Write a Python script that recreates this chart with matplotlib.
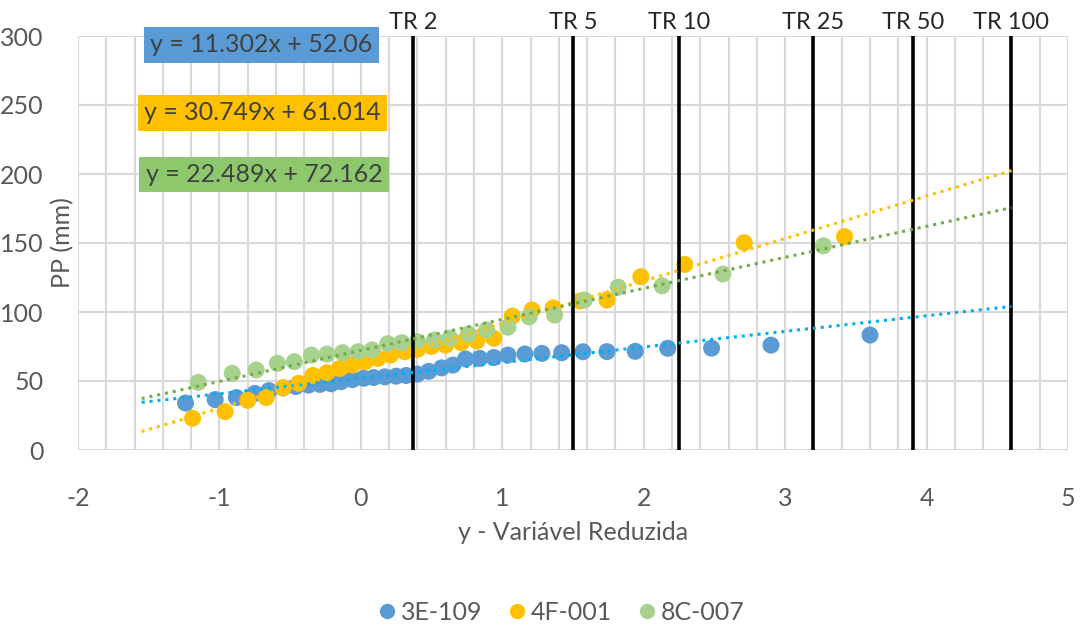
"""
Gumbel: precipitação máxima (PP) x variável reduzida, três postos.
"""

import matplotlib
matplotlib.use("Agg")
import matplotlib.pyplot as plt
from matplotlib.lines import Line2D
from matplotlib.ticker import MultipleLocator
import numpy as np

plt.rcParams['font.family'] = ['Lato', 'DejaVu Sans']
plt.rcParams['axes.unicode_minus'] = False

# --- dados ---
x_3e109 = [-1.24, -1.03, -0.88, -0.75, -0.65, -0.55, -0.46, -0.37, -0.29, -0.21,
           -0.14, -0.06, 0.02, 0.09, 0.17, 0.25, 0.32, 0.40, 0.48, 0.57,
           0.65, 0.74, 0.84, 0.94, 1.04, 1.16, 1.28, 1.42, 1.57, 1.74,
           1.94, 2.17, 2.48, 2.90, 3.60]
pp_3e109 = [34, 36.5, 38, 41, 43, 45, 46, 47, 47.5, 48,
            49.5, 51, 52, 52.5, 53, 53.5, 54, 55, 57, 59.5,
            61.5, 66, 66.4, 67, 68.8, 69.6, 70, 70.5, 71.2, 71.3,
            71.5, 73.7, 73.8, 76, 83.3]

x_4f001 = [-1.19, -0.96, -0.80, -0.67, -0.55, -0.44, -0.34, -0.24, -0.15, -0.06,
           0.03, 0.12, 0.21, 0.31, 0.40, 0.50, 0.60, 0.71, 0.82, 0.94,
           1.07, 1.21, 1.36, 1.55, 1.74, 1.98, 2.29, 2.71, 3.42]
pp_4f001 = [23, 27.8, 36, 38, 45, 48.3, 54, 56, 59, 61.6,
            64, 66.4, 68.8, 71.2, 73, 75, 76, 77.8, 79, 81,
            97, 101.4, 103, 108, 108.7, 125.6, 134.5, 150.2, 154.6]

x_8c007 = [-1.15, -0.91, -0.74, -0.59, -0.47, -0.35, -0.24, -0.13, -0.02, 0.08,
           0.19, 0.29, 0.40, 0.52, 0.63, 0.76, 0.89, 1.04, 1.19, 1.37,
           1.58, 1.82, 2.13, 2.56, 3.27]
pp_8c007 = [49, 55.6, 58, 62.8, 64, 68.8, 69.5, 70.5, 71.2, 72.5,
            77, 77.8, 78.5, 79.7, 81, 84, 87, 89, 96.5, 97.8,
            108.7, 118, 119, 127.5, 148]

# tendências lineares (coeficientes das equações no gráfico)
slopes = [11.302, 30.749, 22.489]
intercepts = [52.06, 61.014, 72.162]
equations = ['y = 11.302x + 52.06', 'y = 30.749x + 61.014', 'y = 22.489x + 72.162']
trend_range = [-1.55, 4.6]

# períodos de retorno e variável reduzida correspondente
tr_labels = ['TR 2', 'TR 5', 'TR 10', 'TR 25', 'TR 50', 'TR 100']
tr_y = [0.367, 1.500, 2.250, 3.199, 3.902, 4.600]

series_names = ['3E-109', '4F-001', '8C-007']
marker_colors = ['#5B9BD5', '#FFC000', '#A9D18E']
trend_colors = ['#00B0F0', '#FFC000', '#70AD47']
box_colors = ['#5B9BD5', '#FFC000', '#8DC86C']

xs = [x_3e109, x_4f001, x_8c007]
ys = [pp_3e109, pp_4f001, pp_8c007]

fig = plt.figure(figsize=(10.8, 6.26), dpi=100)
ax = fig.add_axes([78 / 1080, 1 - 450 / 626, 990 / 1080, 414 / 626])

for x, y, c in zip(xs, ys, marker_colors):
    ax.scatter(x, y, s=150, color=c, edgecolors='none', zorder=3)

for xv in tr_y:
    ax.plot([xv, xv], [0, 300], color='black', lw=2.6, zorder=4, solid_capstyle='butt')
for xv, lab in zip(tr_y, tr_labels):
    ax.text(xv, 302, lab, ha='center', va='bottom', fontsize=17, color='#262626',
            clip_on=False)

xt = np.array(trend_range)
for a, b, c in zip(slopes, intercepts, trend_colors):
    ax.plot(xt, a * xt + b, color=c, lw=2.2, linestyle=(0, (1, 1.6)), zorder=5)

# caixas com as equações
eq_pos = [(0.185, 0.9785), (0.186, 0.8145), (0.188, 0.6655)]
for (px, py), txt, c in zip(eq_pos, equations, box_colors):
    ax.text(px, py, txt, transform=ax.transAxes, ha='center', va='center',
            fontsize=18, color='#404040', zorder=6,
            bbox=dict(boxstyle='square,pad=0.25', fc=c, ec='none'))

ax.set_xlim(-2, 5)
ax.set_ylim(0, 300)
ax.xaxis.set_major_locator(MultipleLocator(1))
ax.xaxis.set_minor_locator(MultipleLocator(0.2))
ax.yaxis.set_major_locator(MultipleLocator(50))
ax.grid(which='both', axis='x', color='#D9D9D9', lw=1.5, zorder=0)
ax.grid(which='major', axis='y', color='#D9D9D9', lw=1.5, zorder=0)
ax.set_axisbelow(True)
for s in ax.spines.values():
    s.set_visible(False)
ax.tick_params(which='both', length=0, labelsize=18, labelcolor='#595959')
ax.tick_params(axis='x', pad=27)
ax.tick_params(axis='y', pad=25)

ax.set_xlabel('y - Variável Reduzida', fontsize=18, color='#595959')
ax.xaxis.set_label_coords(0.5, -0.172)
ax.set_ylabel('PP (mm)', fontsize=18, color='#595959', va='center')
ax.yaxis.set_label_coords(-0.016, 0.5)

handles = [Line2D([], [], marker='o', ls='', markersize=11, color=c,
                  markeredgewidth=0) for c in marker_colors]
fig.legend(handles, series_names, loc='center', bbox_to_anchor=(562 / 1080, 1 - 612 / 626),
           ncol=3, frameon=False, fontsize=18, handlelength=0.6, handletextpad=0.25,
           columnspacing=1.1, labelcolor='#595959')

fig.savefig('out.png', dpi=100)
